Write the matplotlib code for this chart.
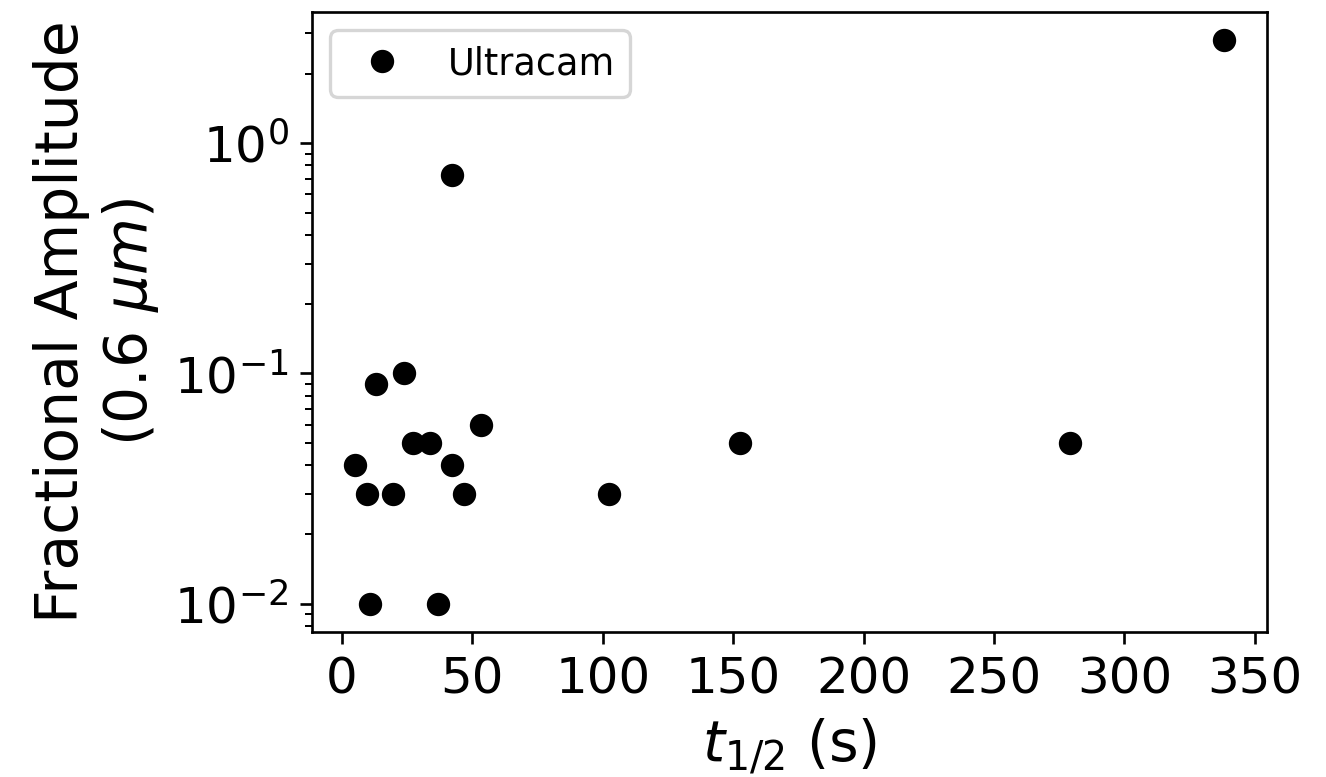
import matplotlib
matplotlib.use('agg')
import matplotlib.pyplot as plt
from matplotlib.ticker import MultipleLocator

# half-life (s) and fractional amplitude at 0.6 um, Ultracam flares
t_half = [5.2, 9.7, 10.8, 13.1, 19.5, 23.9, 27.2, 33.9, 36.9, 42.4, 42.4,
          46.9, 53.5, 102.6, 152.7, 279.2, 338.0]
frac_amp = [0.04, 0.03, 0.01, 0.09, 0.03, 0.10, 0.05, 0.05, 0.01, 0.73, 0.04,
            0.03, 0.06, 0.03, 0.05, 0.05, 2.8]

DPI = 240
fig = plt.figure(figsize=(1326 / DPI, 777 / DPI), dpi=DPI)
ax = fig.add_axes([312 / 1326, 1 - 632 / 777, (1267 - 312) / 1326, (632 - 12) / 777])

ax.plot(t_half, frac_amp, 'ko', label='Ultracam')
ax.set_yscale('log')
ax.xaxis.set_major_locator(MultipleLocator(50))

ax.set_xlabel('$t_{1/2}$ (s)', fontsize=17)
ax.set_ylabel('Fractional Amplitude\n(0.6 $\\mu m$)', fontsize=17.5)
ax.tick_params(axis='both', which='major', labelsize=15)

ax.legend(loc='upper left', fontsize=11)

fig.savefig('out.png', dpi=DPI)
